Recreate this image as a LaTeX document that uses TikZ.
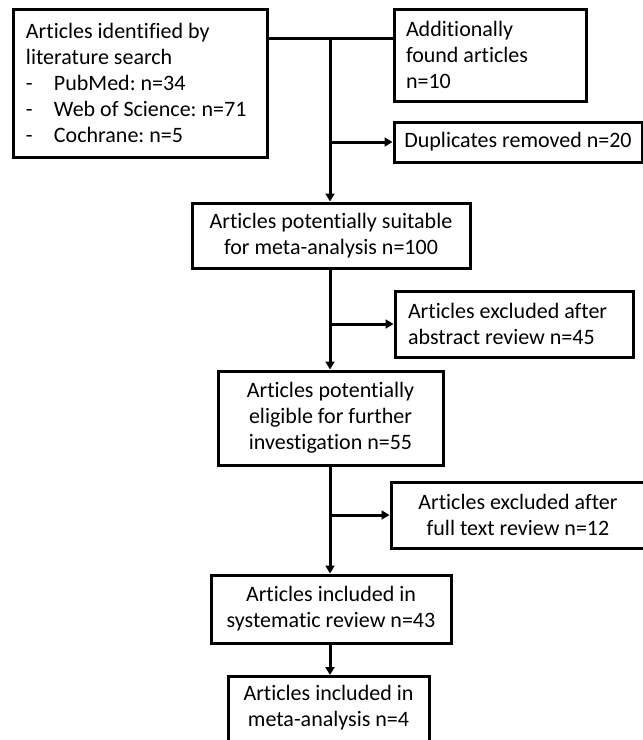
\documentclass[tikz,border=0pt]{standalone}
\usepackage{fontspec}
\setmainfont{Carlito}[Ligatures=NoCommon]
\frenchspacing
\usetikzlibrary{arrows.meta}
\tikzset{
  box/.style={draw, line width=3pt, inner sep=0pt, align=center, font=\fontsize{22}{26}\selectfont},
  flow/.style={line width=3pt, -{Triangle[length=8pt,width=9pt]}}
}
\newcommand{\dashitem}{\makebox[28pt][l]{-}}
\begin{document}
\begin{tikzpicture}[x=1pt, y=-1pt]
            \clip (0,0) rectangle (643,740);
            \node[box, minimum width=254pt, minimum height=148pt, text width=228pt, align=flush left] (search) at (140,83) {Articles identified by\\literature search\\\dashitem PubMed: n=34\\\dashitem Web of Science: n=71\\\dashitem Cochrane: n=5};
            \node[box, minimum width=192pt, minimum height=92pt, text width=168pt, align=flush left] (extra) at (490,55) {Additionally\\found articles\\n=10};
            \node[box, minimum width=248pt, minimum height=40pt] (dupl) at (518,142) {Duplicates removed n=20};
            \node[box, minimum width=278pt, minimum height=65pt] (suitable) at (331,235.5) {Articles potentially suitable\\for meta-analysis n=100};
            \node[box, minimum width=238pt, minimum height=66pt, text width=212pt, align=flush left] (abstr) at (514,324) {Articles excluded after\\abstract review n=45};
            \node[box, minimum width=225pt, minimum height=94pt] (eligible) at (330.5,418) {Articles potentially\\eligible for further\\investigation n=55};
            \node[box, minimum width=254pt, minimum height=66pt] (fulltext) at (518,515) {Articles excluded after\\full text review n=12};
            \node[box, minimum width=240pt, minimum height=68pt] (sysrev) at (331,609) {Articles included in\\systematic review n=43};
            \node[box, minimum width=201pt, inner ysep=9pt, text depth=40pt, anchor=north] (meta) at (328.5,675) {Articles included in\\meta-analysis n=4};
            
            \coordinate (j) at (330,38);
            \draw[line width=3pt] (search.east |- j) -- (extra.west |- j);
            \draw[flow] (j) -- (j |- suitable.north);
            \draw[flow] (j |- dupl.west) -- (dupl.west);
            \draw[flow] (j |- suitable.south) -- (j |- eligible.north);
            \draw[flow] (j |- abstr.west) -- (abstr.west);
            \draw[flow] (j |- eligible.south) -- (j |- sysrev.north);
            \draw[flow] (j |- fulltext.west) -- (fulltext.west);
            \draw[flow] (j |- sysrev.south) -- (j |- meta.north);
        \end{tikzpicture}
\end{document}
